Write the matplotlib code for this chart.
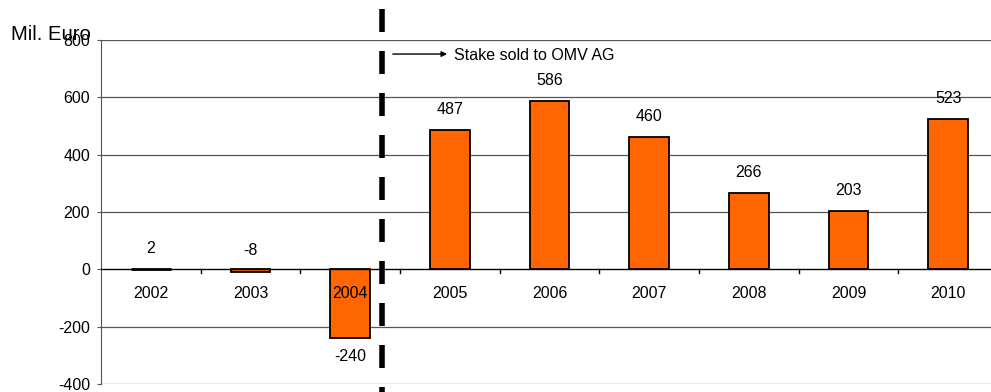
import matplotlib
matplotlib.use("Agg")
import matplotlib.pyplot as plt

plt.rcParams['font.family'] = ['Liberation Sans', 'DejaVu Sans']

years = ["2002", "2003", "2004", "2005", "2006", "2007", "2008", "2009", "2010"]
values = [2, -8, -240, 487, 586, 460, 266, 203, 523]
yticks = [-400, -200, 0, 200, 400, 600, 800]

FS = 11.5
W, H = 991, 392
fig = plt.figure(figsize=(W / 100, H / 100), dpi=100)
x0, x1 = 101, 998
ytop, ybot = 40, 384
ax = fig.add_axes([x0 / W, (H - ybot) / H, (x1 - x0) / W, (ybot - ytop) / H])
ax.set_xlim(-0.5, len(years) - 0.5)
ax.set_ylim(-400, 800)

xs = list(range(len(years)))
lws = [2.0 if abs(v) < 5 else 1.3 for v in values]
ax.bar(xs, values, width=0.4, color="#FF6600", edgecolor="black", linewidth=lws, zorder=3)

for y in yticks:
    if y != 0:
        ax.axhline(y, color="#555555", linewidth=0.9, zorder=1)
ax.axhline(0, color="black", linewidth=1, zorder=4)

for s in ["top", "right", "bottom"]:
    ax.spines[s].set_visible(False)
ax.spines["left"].set_color("#555555")
ax.set_yticks(yticks)
ax.set_yticklabels([str(v) for v in yticks], fontsize=FS)
ax.tick_params(axis="y", length=3, color="#555555", pad=5)
ax.set_xticks([])

# category separator ticks on zero line
for i in range(1, len(years)):
    ax.plot([i - 0.5, i - 0.5], [0, -12], color="black", linewidth=1, zorder=4)

for i, (yr, v) in enumerate(zip(years, values)):
    ax.text(i, -84, yr, ha="center", va="center", fontsize=FS, zorder=5)
    if v >= 0:
        ax.text(i, v + 72, str(v), ha="center", va="center", fontsize=FS)
    elif v < -50:
        ax.text(i, v - 64, str(v), ha="center", va="center", fontsize=FS)
    else:
        ax.text(i, 66, str(v), ha="center", va="center", fontsize=FS)

# dashed separator line
xd = (381.5 - x0) / ((x1 - x0) / len(years)) - 0.5
ax.plot([xd, xd], [908, -540], color="black", linewidth=4,
        dashes=(4.14, 3.42), clip_on=False, zorder=6)
ax.annotate("", xy=(3.0, 751), xytext=(2.4, 751),
            arrowprops=dict(arrowstyle="-|>", color="black", lw=1, mutation_scale=8),
            annotation_clip=False)
ax.text(3.045, 745, "Stake sold to OMV AG", ha="left", va="center", fontsize=FS)

fig.text(11 / W, (H - 35) / H, "Mil. Euro", ha="left", va="center", fontsize=14.6)

fig.savefig("out.png", dpi=100)
